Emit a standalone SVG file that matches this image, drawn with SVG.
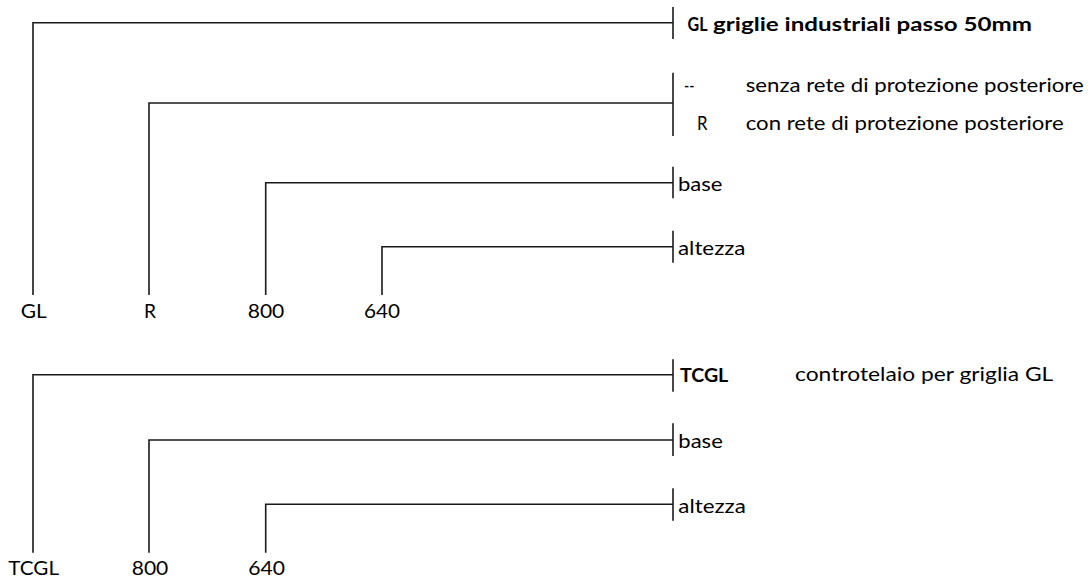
<svg xmlns="http://www.w3.org/2000/svg" width="1091" height="579" viewBox="0 0 1091 579">
<style>
.ln{fill:none;stroke:#1a1a1a;stroke-width:1.6}
.t{font-family:Lato,"Open Sans","Liberation Sans",sans-serif;font-size:20px;fill:#000}
.b{font-weight:bold;font-size:19px}
</style>
<rect width="1091" height="579" fill="#fff"/>
<g id="connectors">
<path class="ln" d="M33,295 V22.7 H673"/>
<path class="ln" d="M149,295 V103 H673"/>
<path class="ln" d="M265.7,295 V182.7 H673"/>
<path class="ln" d="M382,295 V246.7 H673"/>
<path class="ln" d="M673,7 V39"/>
<path class="ln" d="M673,72.7 V136"/>
<path class="ln" d="M673,166.7 V198.3"/>
<path class="ln" d="M673,230.7 V262.7"/>
<path class="ln" d="M33,552.7 V374.7 H673"/>
<path class="ln" d="M149,552.7 V440 H673"/>
<path class="ln" d="M265.7,552.7 V504.3 H673"/>
<path class="ln" d="M673,359.3 V391.7"/>
<path class="ln" d="M673,423.3 V456"/>
<path class="ln" d="M673,488.3 V520.7"/>
</g>
<g id="node-gl-code"><text class="t b" x="687.5" y="31" textLength="20" lengthAdjust="spacingAndGlyphs">GL</text><text class="t b" x="713" y="31" textLength="319" lengthAdjust="spacingAndGlyphs">griglie industriali passo 50mm</text></g>
<g id="node-r-code"><text class="t" x="684" y="92" textLength="10.5" lengthAdjust="spacingAndGlyphs">--</text><text class="t" x="745.7" y="92" textLength="338" lengthAdjust="spacingAndGlyphs">senza rete di protezione posteriore</text><text class="t" x="697" y="130" textLength="10.5" lengthAdjust="spacingAndGlyphs">R</text><text class="t" x="745.7" y="130" textLength="318" lengthAdjust="spacingAndGlyphs">con rete di protezione posteriore</text></g>
<g id="node-base1"><text class="t" x="678" y="190.7" textLength="44.5" lengthAdjust="spacingAndGlyphs">base</text></g>
<g id="node-alt1"><text class="t" x="678" y="255" textLength="67.5" lengthAdjust="spacingAndGlyphs">altezza</text></g>
<g id="node-labels1"><text class="t" x="20.7" y="318" textLength="26" lengthAdjust="spacingAndGlyphs">GL</text><text class="t" x="144" y="318" textLength="12" lengthAdjust="spacingAndGlyphs">R</text><text class="t" x="247.7" y="318" textLength="36.6" lengthAdjust="spacingAndGlyphs">800</text><text class="t" x="364" y="318" textLength="36" lengthAdjust="spacingAndGlyphs">640</text></g>
<g id="node-tcgl"><text class="t b" x="680" y="382" textLength="48.3" lengthAdjust="spacingAndGlyphs">TCGL</text><text class="t" x="795" y="381" textLength="258.3" lengthAdjust="spacingAndGlyphs">controtelaio per griglia GL</text></g>
<g id="node-base2"><text class="t" x="678.3" y="448" textLength="44.5" lengthAdjust="spacingAndGlyphs">base</text></g>
<g id="node-alt2"><text class="t" x="678.3" y="512.6" textLength="67.5" lengthAdjust="spacingAndGlyphs">altezza</text></g>
<g id="node-labels2"><text class="t" x="8.3" y="575" textLength="50.7" lengthAdjust="spacingAndGlyphs">TCGL</text><text class="t" x="131.7" y="575" textLength="36.6" lengthAdjust="spacingAndGlyphs">800</text><text class="t" x="248.3" y="575" textLength="36.7" lengthAdjust="spacingAndGlyphs">640</text></g>
</svg>
